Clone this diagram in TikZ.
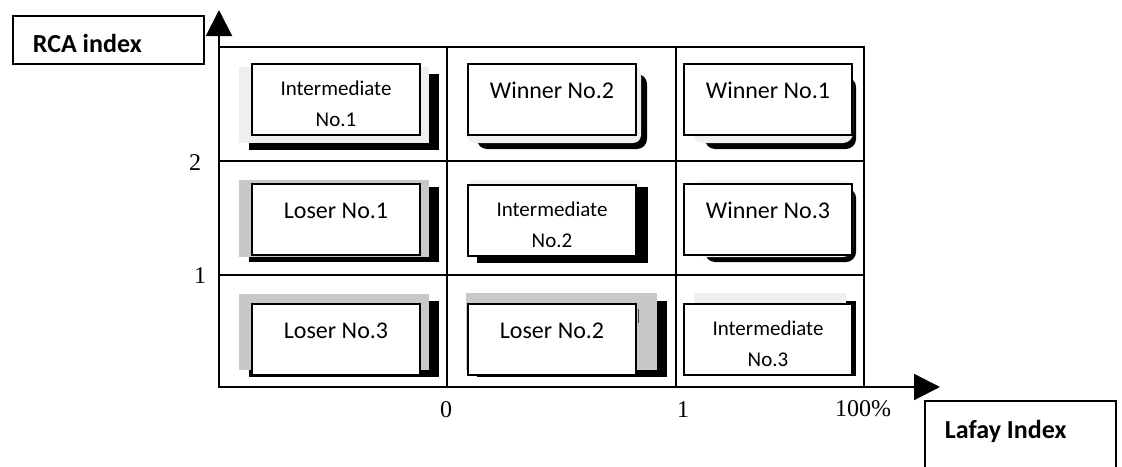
\documentclass[tikz,border=0pt]{standalone}
\usepackage{fontspec}
\setmainfont{Liberation Serif}
\newfontfamily\boxfont{Carlito}
\usetikzlibrary{arrows.meta}
\definecolor{lightshade}{HTML}{EFEFEF}
\definecolor{faintshade}{HTML}{F4F4F4}
\definecolor{hatchgray}{HTML}{C8C8C8}

\begin{document}
\begin{tikzpicture}[x=1pt,y=-1pt,
  cell/.style={draw=black,line width=2pt,fill=white,inner sep=0pt,
    minimum width=168pt,minimum height=71pt,
    font=\boxfont\fontsize{24}{28}\selectfont,text height=15pt,text depth=17pt},
  twoline/.style={font=\boxfont\fontsize{21}{31}\selectfont,align=center,
    text height=55pt,text depth=0.4pt},
  axis/.style={line width=2pt,-{Triangle[length=26pt,width=26pt]}},
  gridline/.style={line width=2pt},
  num/.style={font=\fontsize{24}{28}\selectfont,inner sep=0pt},
  titlebox/.style={draw=black,line width=1.8pt,fill=white,anchor=north west,
    inner xsep=20pt,inner ysep=0pt,
    font=\boxfont\bfseries\fontsize{26}{31}\selectfont}
]
\path[use as bounding box] (0,0) rectangle (1122,466);
\clip (0,0) rectangle (1122,466);

% quadrant grid
\draw[gridline] (219,47) -- (864,47) -- (864,387);
\draw[gridline] (447,47) -- (447,387);
\draw[gridline] (676,47) -- (676,387);
\draw[gridline] (219,160.5) -- (864,160.5);
\draw[gridline] (219,275) -- (864,275);

% axes
\coordinate (origin) at (219,387);
\coordinate (ytip) at (219,10);
\coordinate (xtip) at (940,387);
\draw[axis] ([yshift=1pt]origin) -- (ytip);
\draw[axis] ([xshift=-1pt]origin) -- (xtip);

% axis captions
\node[titlebox,minimum height=48pt,text height=26pt,text depth=0pt] (rca) at (12,15)
  {\makebox[151pt][l]{RCA index}};
\node[titlebox,minimum height=80pt,text height=16pt,text depth=20pt] (lafay) at (924,400)
  {\makebox[151pt][l]{Lafay Index}};

% scale values
\node[num] (y2) at (195,163) {2};
\node[num] (y1) at (200,276) {1};
\node[num] (x0) at (446,410) {0};
\node[num] (x1) at (683,410) {1};
\node[num] (x100) at (863,409) {100\%};

% shadows, top row
\fill (249,74) rectangle (439,150);
\fill[lightshade] (239,67) rectangle (429,143);
\fill[rounded corners=10pt] (477,74) rectangle (647,149);
\fill[lightshade,rounded corners=8pt] (467,66) rectangle (641,143);
\fill[rounded corners=10pt] (705,77) rectangle (856,149);
\fill[lightshade,rounded corners=10pt] (693,70) rectangle (853,143);

% shadows, middle row
\fill (249,187) rectangle (439,262);
\fill[hatchgray] (239,180) rectangle (429,257);
\fill[faintshade] (470,180) rectangle (640,258);
\fill (477,187) rectangle (648,263);
\fill[rounded corners=10pt] (705,188) rectangle (856,262);
\fill[faintshade,rounded corners=10pt] (693,180) rectangle (853,257);

% shadows, bottom row
\fill (249,301) rectangle (439,377);
\fill[hatchgray] (239,294) rectangle (429,370);
\fill (477,301) rectangle (667,377);
\fill[hatchgray] (466,293) rectangle (657,370);
\fill[black!75] (637.5,309) rectangle (639,323);
\fill (700,301) rectangle (856,376);
\fill[lightshade] (694,293) rectangle (846,376);

% category boxes
\node[cell,twoline] (inter1) at (336,99.5) {Intermediate\\No.1};
\node[cell] (win2) at (552,99.5) {Winner No.2};
\node[cell] (win1) at (768,99.5) {Winner No.1};
\node[cell] (lose1) at (336,219.5) {Loser No.1};
\node[cell,twoline] (inter2) at (552,220) {Intermediate\\No.2};
\node[cell] (win3) at (768,219.5) {Winner No.3};
\node[cell] (lose3) at (336,339.5) {Loser No.3};
\node[cell] (lose2) at (552,339.5) {Loser No.2};
\node[cell,twoline] (inter3) at (768,339.5) {Intermediate\\No.3};
\end{tikzpicture}
\end{document}
